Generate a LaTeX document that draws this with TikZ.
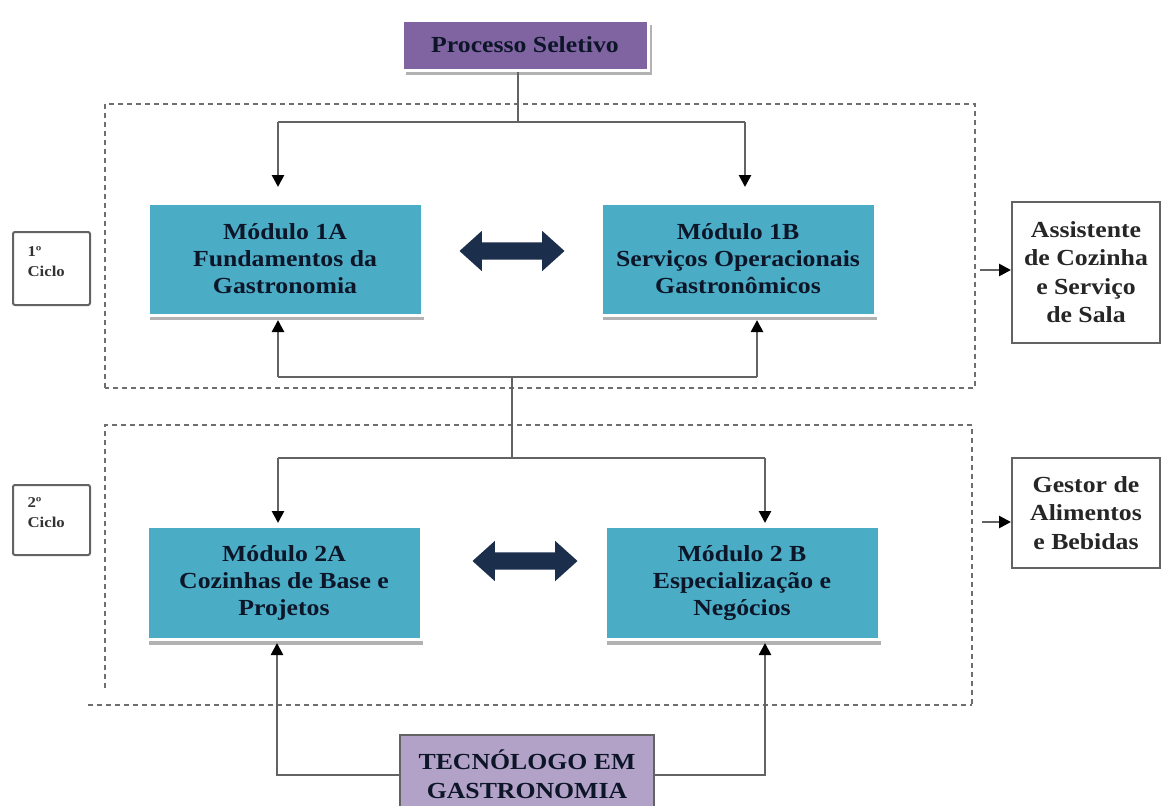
\documentclass[tikz,border=0pt]{standalone}
\usepackage{fontspec}
\setmainfont{Liberation Serif}[FakeStretch=1.12]
\usetikzlibrary{arrows.meta,shadows,shapes.arrows}
\definecolor{tealbox}{HTML}{4BACC6}
\definecolor{purpbox}{HTML}{8064A2}
\definecolor{lpurp}{HTML}{B3A2C7}
\definecolor{navy}{HTML}{1B2F4D}
\definecolor{txtnavy}{HTML}{0D1628}
\definecolor{linegray}{HTML}{636363}
\definecolor{dashgray}{HTML}{6E6E6E}
\tikzset{
  big/.style={font=\bfseries\fontsize{23}{27}\selectfont, align=center},
  modbox/.style={big, fill=tealbox, draw=white, line width=3pt, text=txtnavy,
    minimum width=274pt, minimum height=112pt, inner sep=0pt,
    drop shadow={shadow xshift=2pt, shadow yshift=-5pt, fill=gray!60, opacity=1}},
  psbox/.style={big, fill=purpbox, draw=white, line width=3pt, text=txtnavy,
    minimum width=246pt, minimum height=50pt, inner sep=0pt,
    drop shadow={shadow xshift=4pt, shadow yshift=-5pt, fill=gray!60, opacity=1}},
  tecbox/.style={font=\bfseries\fontsize{23}{29}\selectfont, align=center, fill=lpurp,
    draw=linegray, line width=2pt, text=txtnavy, minimum width=254pt, minimum height=78pt, inner sep=0pt},
  outbox/.style={font=\bfseries\fontsize{23}{28.5}\selectfont, align=center, draw=linegray,
    line width=2pt, text=black!85, minimum width=148pt, inner sep=0pt},
  cicbox/.style={font=\bfseries\fontsize{15}{20}\selectfont, align=left, draw=linegray,
    line width=2pt, rounded corners=2pt, text=black!80, text width=48pt, inner xsep=14.5pt,
    minimum height=73pt},
  dbl/.style={double arrow, fill=navy, minimum height=105pt, inner sep=8.5pt,
    double arrow head extend=11.5pt, double arrow tip angle=84},
  conn/.style={draw=linegray, line width=2.6pt},
  arr/.style={conn, -{Triangle[length=12pt,width=12pt,color=black]}},
  dsh/.style={draw=dashgray, line width=2pt, dash pattern=on 5pt off 4pt}
}
\begin{document}
\begin{tikzpicture}[x=1pt,y=-1pt]
\useasboundingbox (0,0) rectangle (1163,806);
\fill[white] (0,0) rectangle (1163,806);

% dashed cycle frames
\draw[dsh] (105,388) -- (105,104) -- (975,104) -- (975,388) -- cycle;
\draw[dsh] (105,688) -- (105,425) -- (972,425) -- (972,705);
\draw[dsh] (88,705) -- (972,705);

% nodes
\node[psbox] (ps) at (525,45) {Processo Seletivo};
\node[modbox] (m1a) at (285,259) {Módulo 1A\\Fundamentos da\\Gastronomia};
\node[modbox] (m1b) at (738,259) {Módulo 1B\\Serviços Operacionais\\Gastronômicos};
\node[modbox, minimum height=113pt] (m2a) at (284,583) {Módulo 2A\\Cozinhas de Base e\\Projetos};
\node[modbox, minimum height=113pt] (m2b) at (742,583) {Módulo 2 B\\Especialização e\\Negócios};
\node[dbl] (d1) at (512,251) {};
\node[dbl] (d2) at (525,561) {};
\node[tecbox] (tec) at (527,774) {TECNÓLOGO EM\\GASTRONOMIA};
\node[outbox, minimum height=141pt] (a1) at (1086,272) {Assistente\\de Cozinha\\e Serviço\\de Sala};
\node[outbox, minimum height=110pt] (a2) at (1086,513) {Gestor de\\Alimentos\\e Bebidas};
\node[cicbox] (c1) at (51.5,268.5) {1º\\Ciclo\\[-6pt]\mbox{}};
\node[cicbox, minimum height=70pt] (c2) at (51.5,520) {2º\\Ciclo\\[-6pt]\mbox{}};

% coordinates
\coordinate (j1) at (518,122);
\coordinate (t1l) at (278,122);
\coordinate (t1r) at (745,122);
\coordinate (b1l) at (278,377);
\coordinate (b1r) at (757,377);
\coordinate (b1m) at (512,377);
\coordinate (t2m) at (512,458);
\coordinate (t2l) at (278,458);
\coordinate (t2r) at (765,458);
\coordinate (o1) at (980,270);
\coordinate (o2) at (982,522);

% connectors first cycle
\draw[conn] (j1 |- ps.south) -- (j1);
\draw[conn] (t1l) -- (t1r);
\draw[arr] (t1l) -- (t1l |- 0,187);
\draw[arr] (t1r) -- (t1r |- 0,187);
\draw[conn] (b1l) -- (b1r);
\draw[arr] (b1l) -- (b1l |- 0,320);
\draw[arr] (b1r) -- (b1r |- 0,320);
% link between cycles
\draw[conn] (b1m) -- (t2m);
\draw[conn] (t2l) -- (t2r);
\draw[arr] (t2l) -- (t2l |- 0,523);
\draw[arr] (t2r) -- (t2r |- 0,523);
% from Tecnologo
\draw[arr] (tec.west |- 0,775) -| (277,643);
\draw[arr] (tec.east |- 0,775) -| (765,643);
% outputs
\draw[arr] (o1) -- (a1.west |- o1);
\draw[arr] (o2) -- (a2.west |- o2);
\end{tikzpicture}
\end{document}
